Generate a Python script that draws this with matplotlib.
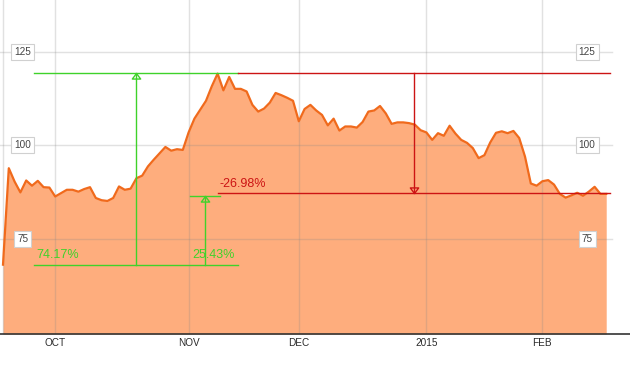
import matplotlib
matplotlib.use("Agg")
import matplotlib.pyplot as plt
from matplotlib.transforms import blended_transform_factory

# ---- data (trading-day index -> price) ----
prices = [68.0, 93.9, 90.3, 87.4, 90.6, 89.2, 90.5, 88.8, 88.7, 86.3,
          87.2, 88.1, 88.1, 87.6, 88.3, 88.8, 85.9, 85.3, 85.1, 85.9,
          89.0, 88.1, 88.4, 91.2, 91.9, 94.4, 96.2, 97.9, 99.6, 98.6,
          99.0, 98.8, 103.5, 107.2, 109.6, 112.0, 115.9, 119.3, 114.8, 118.4,
          115.2, 115.2, 114.5, 110.9, 109.1, 109.9, 111.5, 114.1, 113.5, 112.8,
          112.0, 106.5, 109.8, 110.9, 109.4, 108.2, 105.4, 107.2, 104.0, 105.1,
          105.1, 104.8, 106.3, 109.1, 109.4, 110.6, 108.6, 105.8, 106.2, 106.2,
          106.0, 105.6, 104.1, 103.5, 101.5, 103.3, 102.6, 105.3, 103.2, 101.5,
          100.7, 99.3, 96.6, 97.4, 100.8, 103.4, 103.8, 103.3, 103.9, 102.0,
          97.0, 89.8, 89.2, 90.4, 90.7, 89.5, 87.0, 86.0, 86.6, 87.3,
          86.5, 87.6, 88.9, 87.0, 87.0]
x = list(range(len(prices)))

month_labels = ["OCT", "NOV", "DEC", "2015", "FEB"]
month_index = [9, 32, 51, 73, 93]

y_ticks = [125, 100, 75]

base_val = 68.0
peak_val = 119.5
mid_val = 86.5
last_val = 87.2
gain_label = "74.17%"
gain2_label = "25.43%"
loss_label = "-26.98%"

# ---- figure ----
fig = plt.figure(figsize=(6.3, 3.71), dpi=100)
ax = fig.add_axes([0, 37 / 371, 1, 334 / 371])
ax.set_xlim(-0.517, 108.1)
ax.set_ylim(49.38, 139.06)
ax.axis("off")

fill_c = "#fead7d"
line_c = "#f06a1c"
green = "#3fd22a"
red = "#cc1414"
grid_c = "#888888"

ax.fill_between(x, prices, 49.38, color=fill_c, lw=0, zorder=1)
ax.plot(x, prices, color=line_c, lw=1.6, zorder=3, solid_joinstyle="round")

# grid
for v in y_ticks:
    ax.plot([-0.517, 105.0], [v, v], color=grid_c, lw=1.0, alpha=0.25, zorder=2)
for m in [0] + month_index:
    ax.axvline(m, color=grid_c, lw=1.0, alpha=0.25, zorder=2)

# bottom axis line
ax.axhline(49.38, color="#333333", lw=1.2, zorder=4, clip_on=False)

# x labels
for m, lab in zip(month_index, month_labels):
    ax.text(m, 48.4, lab, ha="center", va="top", fontsize=7.2, color="#2a2a2a",
            family=["Liberation Sans Narrow", "Liberation Sans", "DejaVu Sans"])

# y labels in boxes
bt = blended_transform_factory(ax.transAxes, ax.transData)
box = dict(boxstyle="square,pad=0.3", fc="white", ec="#d0d0d0", lw=0.8)
for v in y_ticks:
    for xf in (0.036, 0.932):
        ax.text(xf, v, str(v), transform=bt, ha="center", va="center",
                fontsize=7.2, color="#444444", bbox=box, zorder=6,
                family=["Liberation Sans", "DejaVu Sans"])

# arrow heads as markers (tip at origin)
up_tri = [(0, 0), (-0.75, -1), (0.75, -1), (0, 0)]
down_tri = [(0, 0), (-0.75, 1), (0.75, 1), (0, 0)]

# green gain annotation
ax.plot([5.34, 40.5], [peak_val, peak_val], color=green, lw=1.0, zorder=5)
ax.plot([5.34, 40.5], [base_val, base_val], color=green, lw=1.0, zorder=5)
ax.plot([23.0, 23.0], [base_val, peak_val], color=green, lw=1.0, zorder=5)
ax.plot([23.0], [peak_val], marker=up_tri, ms=8, mfc="none", mec=green, mew=1.0, zorder=5)
ax.text(5.8, 69.0, gain_label, color=green, fontsize=9, ha="left", va="bottom",
        family=["Liberation Sans", "DejaVu Sans"], zorder=6)

# second green annotation
ax.plot([32.2, 37.4], [mid_val, mid_val], color=green, lw=1.0, zorder=5)
ax.plot([34.8, 34.8], [base_val, mid_val], color=green, lw=1.0, zorder=5)
ax.plot([34.8], [mid_val], marker=up_tri, ms=8, mfc="none", mec=green, mew=1.0, zorder=5)
ax.text(32.6, 69.0, gain2_label, color=green, fontsize=9, ha="left", va="bottom",
        family=["Liberation Sans", "DejaVu Sans"], zorder=6)

# red loss annotation
ax.plot([40.5, 104.7], [peak_val, peak_val], color=red, lw=1.0, zorder=5)
ax.plot([37.1, 104.7], [last_val, last_val], color=red, lw=1.0, zorder=5)
ax.plot([70.9, 70.9], [peak_val, last_val], color=red, lw=1.0, zorder=5)
ax.plot([70.9], [last_val], marker=down_tri, ms=8, mfc="none", mec=red, mew=1.0, zorder=5)
ax.text(37.4, 89.7, loss_label, color=red, fontsize=9, ha="left", va="center",
        family=["Liberation Sans", "DejaVu Sans"], zorder=6)

fig.savefig("out.png", dpi=100)
